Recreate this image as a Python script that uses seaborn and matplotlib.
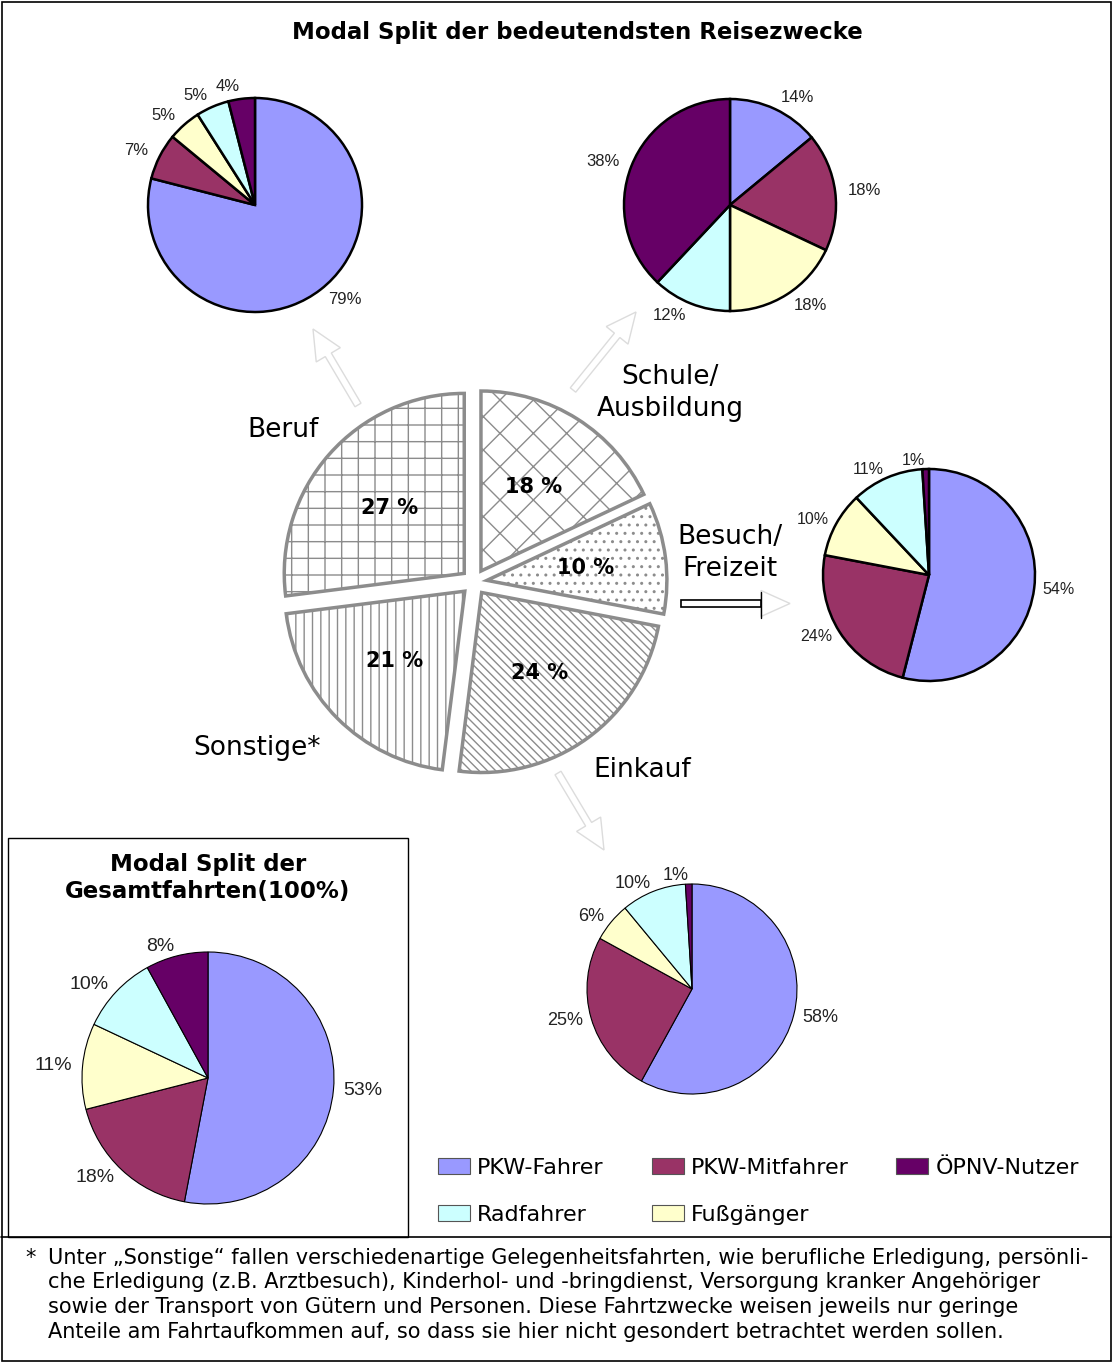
import matplotlib.pyplot as plt
import seaborn as sns
from matplotlib.patches import Rectangle, FancyArrow, Patch

W, H = 1112, 1362

# Verkehrsmittel, im Uhrzeigersinn ab 12 Uhr
modes = ["PKW-Fahrer", "PKW-Mitfahrer", "Fußgänger", "Radfahrer", "ÖPNV-Nutzer"]
beruf = [79, 7, 5, 5, 4]
schule = [14, 18, 18, 12, 38]
besuch = [54, 24, 10, 11, 1]
einkauf = [58, 25, 6, 10, 1]
gesamt = [53, 18, 11, 10, 8]

# Reisezwecke (mittlere Torte)
zwecke = ["Schule/\nAusbildung", "Besuch/\nFreizeit", "Einkauf", "Sonstige*", "Beruf"]
anteile = [18, 10, 24, 21, 27]
muster = ["x", "..", "\\\\\\\\", "||", "+"]

legend_order = ["PKW-Fahrer", "Radfahrer", "PKW-Mitfahrer", "Fußgänger", "ÖPNV-Nutzer"]

fussnote = [
    "Unter „Sonstige“ fallen verschiedenartige Gelegenheitsfahrten, wie berufliche Erledigung, persönli-",
    "che Erledigung (z.B. Arztbesuch), Kinderhol- und -bringdienst, Versorgung kranker Angehöriger",
    "sowie der Transport von Gütern und Personen. Diese Fahrtzwecke weisen jeweils nur geringe",
    "Anteile am Fahrtaufkommen auf, so dass sie hier nicht gesondert betrachtet werden sollen.",
]

sns.set_theme(style="white")
plt.rcParams["font.family"] = ["DejaVu Sans"]
plt.rcParams["text.color"] = "black"
plt.rcParams["hatch.color"] = "#8c8c8c"
plt.rcParams["hatch.linewidth"] = 1.0

farben = dict(zip(modes, ["#9999ff", "#993366", "#ffffcc", "#ccffff", "#660066"]))
pal = sns.color_palette([farben[m] for m in modes])

fig = plt.figure(figsize=(W / 100, H / 100), dpi=100)
ax = fig.add_axes([0, 0, 1, 1])


def Y(y):
    # pixel von oben -> daten von unten
    return H - y


def kleine_torte(werte, cx, cy, r, lw, fs, ld=1.1):
    wedges, texts = ax.pie(werte, colors=pal, center=(cx, Y(cy)), radius=r, startangle=90,
                           counterclock=False, labels=[f"{v}%" for v in werte], labeldistance=ld,
                           wedgeprops=dict(edgecolor="black", linewidth=lw),
                           textprops=dict(fontsize=fs, family="Liberation Sans", color="#222222"))
    # ausrichtung relativ zum mittelpunkt korrigieren
    for t in texts:
        x, _ = t.get_position()
        t.set_ha("left" if x >= cx else "right")


kleine_torte(beruf, 255, 205, 107, 1.8, 12, 1.12)
kleine_torte(schule, 730, 205, 106, 1.8, 12, 1.12)
kleine_torte(besuch, 929, 575, 106, 1.8, 11.5, 1.08)
kleine_torte(einkauf, 692, 989, 105, 0.8, 13, 1.08)
kleine_torte(gesamt, 208, 1078, 126, 0.8, 14, 1.08)

# mittlere Torte mit Schraffur
ax.pie(anteile, center=(474, Y(582)), radius=180, startangle=90, counterclock=False,
       explode=[13] * len(anteile), colors=["white"] * len(anteile), hatch=muster,
       autopct=lambda p: f"{p:.0f} %", pctdistance=0.55,
       wedgeprops=dict(edgecolor="#8c8c8c", linewidth=2.5),
       textprops=dict(fontsize=15, fontweight="bold", color="black"))

pos_zwecke = [(670, 393), (730, 553), (642, 770), (257, 748), (283, 430)]
for name, (x, y) in zip(zwecke, pos_zwecke):
    ax.text(x, Y(y), name, ha="center", va="center", fontsize=19, linespacing=1.3)

# pfeile
pfeil = dict(length_includes_head=True, facecolor="none", edgecolor="#dcdcdc", lw=1)
ax.add_patch(FancyArrow(358, Y(405), -45, 76, width=7, head_width=28, head_length=30, **pfeil))
ax.add_patch(FancyArrow(573, Y(390), 63, 78, width=7, head_width=28, head_length=30, **pfeil))
ax.add_patch(FancyArrow(558, Y(773), 46, -77, width=7, head_width=28, head_length=30, **pfeil))
ax.add_patch(FancyArrow(681, Y(603.5), 109, 0, width=7, head_width=26, head_length=29, **pfeil))
ax.add_patch(Rectangle((681, Y(607)), 80, 7, facecolor="white", edgecolor="black", lw=1.2))
ax.plot([761, 761], [Y(592), Y(618)], color="black", lw=1)

# titel
ax.text(577, Y(33), "Modal Split der bedeutendsten Reisezwecke", ha="center", va="center",
        fontsize=16.5, fontweight="bold")
ax.text(208, Y(878), "Modal Split der\nGesamtfahrten(100%)", ha="center", va="center",
        fontsize=16.5, fontweight="bold", linespacing=1.25)

# rahmen
ax.add_patch(Rectangle((1.5, 1.5), W - 3, H - 3, fill=False, edgecolor="black", lw=1.2))
ax.add_patch(Rectangle((8, Y(1237)), 400, 1237 - 838, fill=False, edgecolor="black", lw=1))
ax.plot([1, W - 1], [Y(1237), Y(1237)], color="black", lw=1.2)

# fussnote
ax.text(25, Y(1258), "*", ha="left", va="center", fontsize=15)
for i, zeile in enumerate(fussnote):
    ax.text(48, Y(1258 + 24.5 * i), zeile, ha="left", va="center", fontsize=15)

# legende
handles = [Patch(facecolor=farben[m], edgecolor="#555555", lw=0.8, label=m) for m in legend_order]
fig.legend(handles=handles, ncol=3, loc="upper left", bbox_to_anchor=(438 / W, 1 - 1158 / H),
           frameon=False, fontsize=16, handlelength=1.44, handleheight=0.75,
           handletextpad=0.32, columnspacing=2.15, labelspacing=1.2,
           borderpad=0, borderaxespad=0)

ax.set_xlim(0, W)
ax.set_ylim(0, H)
ax.axis("off")

fig.savefig("out.png", dpi=100)
